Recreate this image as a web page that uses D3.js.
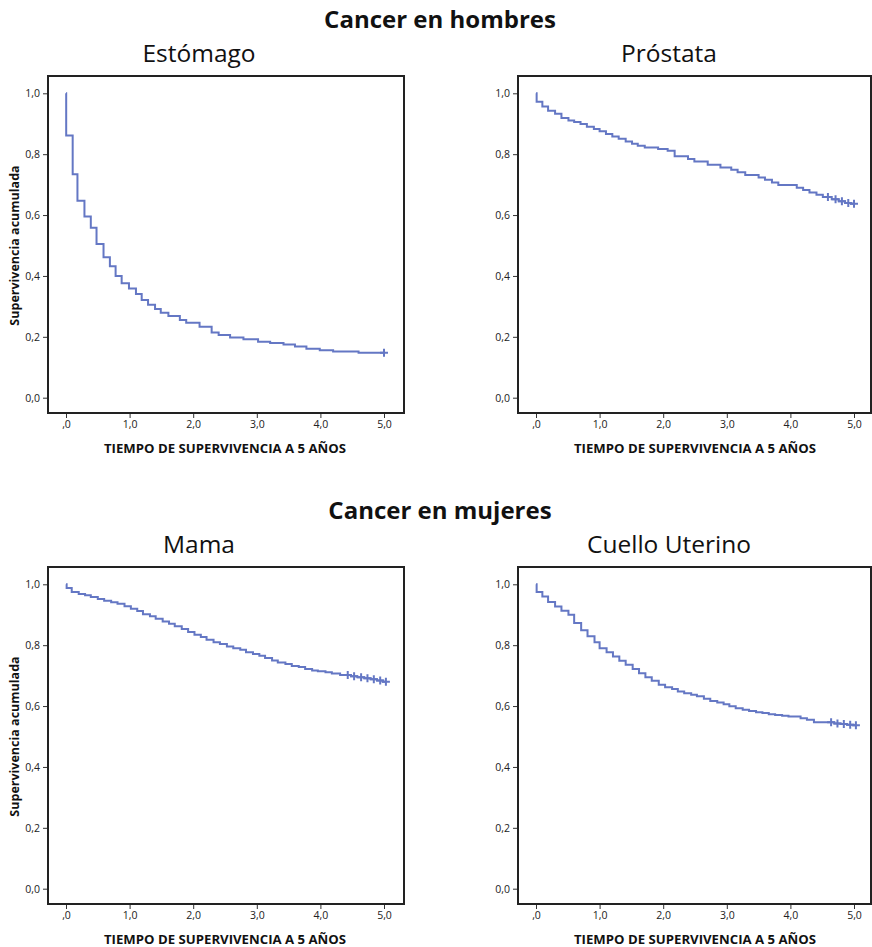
<!DOCTYPE html>
<html>
<head>
<meta charset="utf-8">
<script src="https://cdn.jsdelivr.net/npm/d3@7"></script>
<style>
  body { margin: 0; background: #fff; }
  svg { display: block; font-family: 'Open Sans', sans-serif; }
</style>
</head>
<body>
<div id="chart"></div>
<script>
// Kaplan-Meier steps: time (years) and cumulative survival
const estomagoTime = [0, 0.003, 0.105, 0.18, 0.29, 0.39, 0.48, 0.59, 0.69, 0.78, 0.875, 0.99, 1.10, 1.19, 1.29, 1.40, 1.49, 1.61, 1.79, 1.89, 2.10, 2.29, 2.40, 2.58, 2.79, 3.02, 3.21, 3.42, 3.60, 3.78, 3.99, 4.20, 4.60];
const estomagoSurv = [1.0, 0.861, 0.734, 0.647, 0.595, 0.558, 0.505, 0.461, 0.432, 0.400, 0.376, 0.359, 0.341, 0.321, 0.305, 0.291, 0.279, 0.268, 0.255, 0.246, 0.233, 0.214, 0.206, 0.198, 0.192, 0.184, 0.180, 0.175, 0.168, 0.161, 0.156, 0.152, 0.148];
const estomagoCensor = [5.0];

const prostataTime = [0, 0.01, 0.10, 0.19, 0.30, 0.40, 0.51, 0.60, 0.70, 0.80, 0.91, 1.00, 1.10, 1.20, 1.30, 1.41, 1.51, 1.60, 1.71, 1.92, 2.07, 2.18, 2.39, 2.49, 2.70, 2.90, 3.07, 3.17, 3.29, 3.50, 3.60, 3.71, 3.81, 4.10, 4.20, 4.30, 4.41, 4.51, 4.65, 4.76, 4.86, 4.95];
const prostataSurv = [1.0, 0.972, 0.957, 0.943, 0.933, 0.919, 0.911, 0.906, 0.899, 0.890, 0.883, 0.875, 0.866, 0.858, 0.851, 0.842, 0.834, 0.828, 0.822, 0.817, 0.811, 0.793, 0.784, 0.776, 0.765, 0.756, 0.749, 0.741, 0.732, 0.723, 0.716, 0.707, 0.699, 0.690, 0.682, 0.674, 0.667, 0.659, 0.652, 0.645, 0.640, 0.637];
const prostataCensor = [4.59, 4.71, 4.81, 4.91, 5.0];

const mamaTime = [0, 0.01, 0.09, 0.20, 0.30, 0.39, 0.50, 0.60, 0.71, 0.81, 0.92, 1.02, 1.12, 1.21, 1.32, 1.41, 1.52, 1.62, 1.71, 1.82, 1.92, 2.02, 2.12, 2.21, 2.32, 2.42, 2.53, 2.63, 2.74, 2.83, 2.94, 3.04, 3.13, 3.24, 3.33, 3.45, 3.55, 3.66, 3.76, 3.87, 3.96, 4.08, 4.18, 4.31, 4.48, 4.58, 4.69, 4.79, 4.89, 4.98];
const mamaSurv = [1.0, 0.988, 0.975, 0.968, 0.964, 0.958, 0.952, 0.946, 0.941, 0.936, 0.928, 0.920, 0.912, 0.902, 0.895, 0.887, 0.878, 0.870, 0.862, 0.853, 0.843, 0.834, 0.827, 0.818, 0.810, 0.804, 0.796, 0.790, 0.785, 0.777, 0.771, 0.765, 0.758, 0.750, 0.743, 0.738, 0.732, 0.728, 0.722, 0.717, 0.714, 0.711, 0.707, 0.702, 0.698, 0.695, 0.691, 0.688, 0.684, 0.680];
const mamaCensor = [4.43, 4.53, 4.64, 4.74, 4.84, 4.94, 5.03];

const cuelloTime = [0, 0.01, 0.10, 0.19, 0.30, 0.40, 0.51, 0.60, 0.71, 0.81, 0.92, 1.00, 1.11, 1.21, 1.31, 1.41, 1.52, 1.62, 1.72, 1.82, 1.93, 2.03, 2.14, 2.23, 2.33, 2.44, 2.53, 2.64, 2.74, 2.85, 2.95, 3.04, 3.14, 3.25, 3.35, 3.46, 3.56, 3.66, 3.76, 3.87, 3.97, 4.16, 4.26, 4.37, 4.69, 4.79, 4.89, 4.99];
const cuelloSurv = [1.0, 0.975, 0.960, 0.942, 0.927, 0.913, 0.900, 0.873, 0.849, 0.829, 0.810, 0.790, 0.777, 0.763, 0.749, 0.736, 0.722, 0.708, 0.695, 0.683, 0.670, 0.662, 0.656, 0.648, 0.642, 0.637, 0.632, 0.624, 0.617, 0.612, 0.606, 0.599, 0.593, 0.588, 0.584, 0.580, 0.577, 0.573, 0.571, 0.568, 0.566, 0.560, 0.555, 0.547, 0.543, 0.541, 0.539, 0.537];
const cuelloCensor = [4.64, 4.74, 4.84, 4.94, 5.03];

const xTicks = [0, 1, 2, 3, 4, 5];
const yTicks = [0, 0.2, 0.4, 0.6, 0.8, 1.0];
const groupTitles = ['Cancer en hombres', 'Cancer en mujeres'];
const xLabel = 'TIEMPO DE SUPERVIVENCIA A 5 AÑOS';
const yLabel = 'Supervivencia acumulada';

const W = 872, H = 947;
const lineColor = '#6477c4';

const svg = d3.select('#chart').append('svg').attr('width', W).attr('height', H);

// panel frames: left, top, width (height is shared)
const panels = [
  { title: 'Estómago', time: estomagoTime, surv: estomagoSurv, censor: estomagoCensor, left: 48, top: 76, w: 356, ylab: true },
  { title: 'Próstata', time: prostataTime, surv: prostataSurv, censor: prostataCensor, left: 518, top: 76, w: 353, ylab: false },
  { title: 'Mama', time: mamaTime, surv: mamaSurv, censor: mamaCensor, left: 48, top: 567, w: 356, ylab: true },
  { title: 'Cuello Uterino', time: cuelloTime, surv: cuelloSurv, censor: cuelloCensor, left: 518, top: 567, w: 353, ylab: false },
];
const PH = 337;

// group headings
svg.append('text').attr('x', 440).attr('y', 28).attr('text-anchor', 'middle')
  .attr('font-size', 24).attr('font-weight', 700).attr('fill', '#111').text(groupTitles[0]);
svg.append('text').attr('x', 440).attr('y', 519).attr('text-anchor', 'middle')
  .attr('font-size', 24).attr('font-weight', 700).attr('fill', '#111').text(groupTitles[1]);

const fmtX = (d) => (d === 0 ? ',0' : d3.format('.1f')(d).replace('.', ','));
const fmtY = (d) => d3.format('.1f')(d).replace('.', ',');

panels.forEach((p) => {
  const g = svg.append('g').attr('transform', `translate(${p.left},${p.top})`);
  const x = d3.scaleLinear().domain([0, 5]).range([18, 336]);
  const y = d3.scaleLinear().domain([0, 1]).range([321.7, 17.3]);

  // panel title
  g.append('text').attr('x', (x(0) + x(5)) / 2 - 26).attr('y', -14).attr('text-anchor', 'middle')
    .attr('font-size', 24.5).attr('fill', '#111').text(p.title);

  // axes
  const xAxis = g.append('g').attr('transform', `translate(0,${PH})`)
    .call(d3.axisBottom(x).tickValues(xTicks).tickSize(5).tickPadding(3).tickFormat(fmtX));
  const yAxis = g.append('g')
    .call(d3.axisLeft(y).tickValues(yTicks).tickSize(5).tickPadding(3).tickFormat(fmtY));
  [xAxis, yAxis].forEach((a) => {
    a.select('.domain').remove();
    a.selectAll('line').attr('stroke', '#333').attr('stroke-width', 1);
    a.selectAll('text').attr('font-family', "'Open Sans', sans-serif").attr('font-size', 10.5).attr('fill', '#222');
  });

  // frame
  g.append('rect').attr('x', 0).attr('y', 0).attr('width', p.w).attr('height', PH)
    .attr('fill', 'none').attr('stroke', '#222').attr('stroke-width', 2);

  // survival curve (step after), extended to last censor time
  const last = d3.max(p.censor);
  const pts = p.time.map((t, i) => [t, p.surv[i]]);
  pts.push([last, p.surv[p.surv.length - 1]]);
  const line = d3.line().x((d) => x(d[0])).y((d) => y(d[1])).curve(d3.curveStepAfter);
  g.append('path').datum(pts).attr('fill', 'none').attr('stroke', lineColor)
    .attr('stroke-width', 2).attr('d', line);

  // censor marks
  const survAt = (t) => p.surv[d3.bisectRight(p.time, t) - 1];
  g.selectAll('.cens').data(p.censor).enter().append('path')
    .attr('class', 'cens')
    .attr('transform', (t) => `translate(${x(t)},${y(survAt(t))})`)
    .attr('d', 'M-4,0H4M0,-4V4')
    .attr('stroke', lineColor).attr('stroke-width', 2).attr('fill', 'none');

  // axis labels
  g.append('text').attr('x', (x(0) + x(5)) / 2).attr('y', PH + 40).attr('text-anchor', 'middle')
    .attr('font-size', 13.2).attr('font-weight', 700).attr('fill', '#111').text(xLabel);
  if (p.ylab) {
    g.append('text').attr('transform', `translate(-29,${(y(0) + y(1)) / 2}) rotate(-90)`)
      .attr('text-anchor', 'middle').attr('font-size', 12.5).attr('font-weight', 700)
      .attr('fill', '#111').text(yLabel);
  }
});
</script>
</body>
</html>
